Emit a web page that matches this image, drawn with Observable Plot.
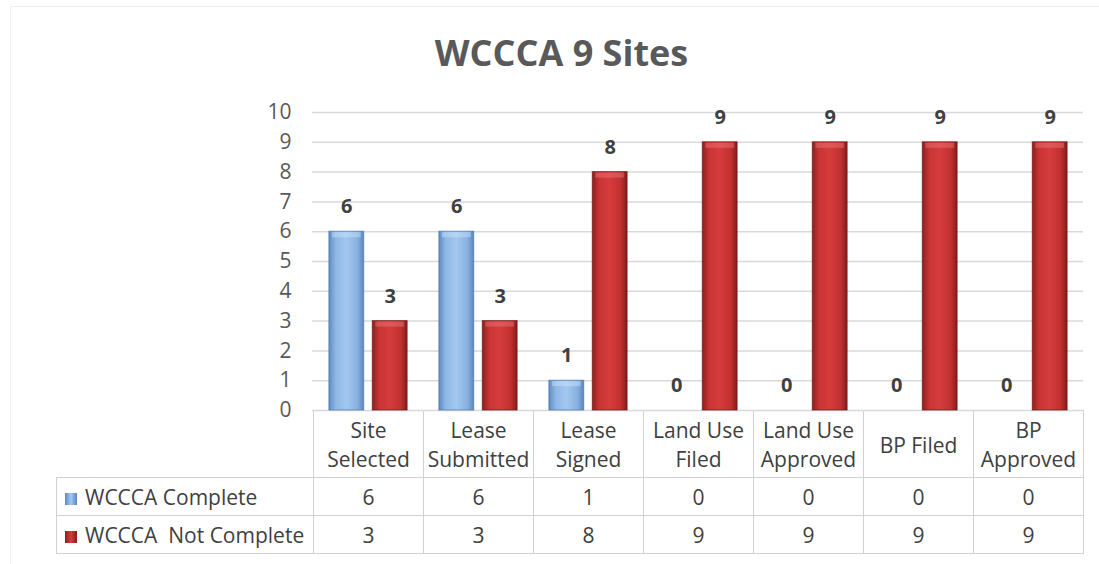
<!DOCTYPE html>
<html>
<head>
<meta charset="utf-8">
<script src="https://cdn.jsdelivr.net/npm/d3@7"></script>
<script src="https://cdn.jsdelivr.net/npm/@observablehq/plot@0.6"></script>
<style>
  body { margin: 0; background: #fff; }
  #wrap { position: relative; width: 1099px; height: 564px; overflow: hidden; font-family: "Open Sans", sans-serif; }
  #frame { position: absolute; left: 10px; top: 6px; width: 1300px; height: 900px; border: 1px solid #efefef; box-sizing: border-box; }
  #title { position: absolute; left: 24px; width: 1075px; top: 28px; height: 49px; line-height: 49px; text-align: center;
           font-weight: 700; font-size: 36px; color: #595959; }
  #chart { position: absolute; left: 0; top: 90px; z-index: 2; }
  #tbl { position: absolute; left: 56px; top: 410px; z-index: 1; border-collapse: collapse; table-layout: fixed;
         font-size: 21px; color: #404040; }
  #tbl td { border: 1px solid #d2d2d2; padding: 0; text-align: center; vertical-align: middle; white-space: pre; overflow: hidden; }
  #tbl td.blank { border-top: none; border-left: none; }
  #tbl td.rowlabel { text-align: left; padding-left: 8px; }
  .sw { display: inline-block; width: 12px; height: 12px; margin-right: 8px; vertical-align: 0px; box-sizing: border-box; }
</style>
</head>
<body>
<div id="wrap">
  <div id="frame"></div>
  <div id="title"></div>
  <div id="chart"></div>
  <table id="tbl"></table>
</div>
<script>
const title = "WCCCA 9 Sites";
const categories = ["Site\nSelected", "Lease\nSubmitted", "Lease\nSigned", "Land Use\nFiled", "Land Use\nApproved", "BP Filed", "BP\nApproved"];
const seriesNames = ["WCCCA Complete", "WCCCA  Not Complete"];
const completeValues = [6, 6, 1, 0, 0, 0, 0];
const notCompleteValues = [3, 3, 8, 9, 9, 9, 9];
const yTicks = [0, 1, 2, 3, 4, 5, 6, 7, 8, 9, 10];

document.getElementById("title").textContent = title;

const rows = categories.map((c, i) => ({category: c, complete: completeValues[i], notComplete: notCompleteValues[i]}));

const BAR_W = 35, OFF = 21.7;
const plotLeft = 312, plotRight = 1083;
const bandW = (plotRight - plotLeft) / categories.length;
const inset = (bandW - BAR_W) / 2;

const plot = Plot.plot({
  width: 1099, height: 387,
  marginTop: 22, marginBottom: 67, marginLeft: plotLeft, marginRight: 1099 - plotRight,
  style: {background: "transparent", fontFamily: "'Open Sans', sans-serif", fontSize: "21px", color: "#595959", overflow: "visible"},
  x: {domain: categories, padding: 0, axis: null},
  y: {domain: [0, 10], axis: null},
  marks: [
    Plot.gridY(yTicks, {stroke: "#d9d9d9", strokeOpacity: 1, strokeWidth: 1.5}),
    Plot.axisY(yTicks, {tickSize: 0, tickPadding: 21, fontSize: 21, fill: "#595959"}),
    Plot.barY(rows, {filter: d => d.complete > 0, x: "category", y: "complete", dx: -OFF, insetLeft: inset, insetRight: inset,
      fill: "url(#gradBlue)", stroke: "#4f78ab", strokeWidth: 1, strokeOpacity: 0.7}),
    Plot.barY(rows, {filter: d => d.notComplete > 0, x: "category", y: "notComplete", dx: OFF, insetLeft: inset, insetRight: inset,
      fill: "url(#gradRed)", stroke: "#6e1616", strokeWidth: 1, strokeOpacity: 0.7}),
    Plot.tickY(rows, {filter: d => d.complete > 0, x: "category", y: "complete", dx: -OFF, dy: 3, insetLeft: inset + 3, insetRight: inset + 3,
      stroke: "#cfe4fb", strokeWidth: 5, strokeOpacity: 0.45}),
    Plot.tickY(rows, {filter: d => d.notComplete > 0, x: "category", y: "notComplete", dx: OFF, dy: 3, insetLeft: inset + 3, insetRight: inset + 3,
      stroke: "#ee7a7a", strokeWidth: 5, strokeOpacity: 0.45}),
    Plot.text(rows, {x: "category", y: "complete", text: d => String(d.complete), dx: -OFF, dy: -25,
      fontWeight: "bold", fontSize: 20, fill: "#404040"}),
    Plot.text(rows, {x: "category", y: "notComplete", text: d => String(d.notComplete), dx: OFF, dy: -25,
      fontWeight: "bold", fontSize: 20, fill: "#404040"}),
    Plot.text(categories, {x: d => d, text: d => d, frameAnchor: "bottom", dy: 33, lineAnchor: "middle",
      lineHeight: 1.34, fontSize: 21, fill: "#404040"})
  ]
});

d3.select(plot).insert("defs", ":first-child").html(`
  <linearGradient id="gradBlue" x1="0" x2="1" y1="0" y2="0">
    <stop offset="0" stop-color="#5f8bc3"/>
    <stop offset="0.2" stop-color="#8fb8e6"/>
    <stop offset="0.5" stop-color="#a3c8f0"/>
    <stop offset="0.82" stop-color="#88b1e0"/>
    <stop offset="1" stop-color="#5a86bf"/>
  </linearGradient>
  <linearGradient id="gradRed" x1="0" x2="1" y1="0" y2="0">
    <stop offset="0" stop-color="#8e1f1f"/>
    <stop offset="0.2" stop-color="#c93434"/>
    <stop offset="0.5" stop-color="#d63c3c"/>
    <stop offset="0.82" stop-color="#c03030"/>
    <stop offset="1" stop-color="#861b1b"/>
  </linearGradient>`);

document.getElementById("chart").appendChild(plot);

// Data table below the chart, aligned to the x scale
const xs = plot.scale("x");
const colStart = xs.apply(categories[0]);
const bw = xs.bandwidth;
const tbl = d3.select("#tbl");
const tableLeft = 56;
const cg = tbl.append("colgroup");
cg.append("col").style("width", (colStart - tableLeft) + "px");
categories.forEach(() => cg.append("col").style("width", bw + "px"));
tbl.style("width", (colStart - tableLeft + bw * categories.length) + "px");

const head = tbl.append("tr").style("height", "67px");
head.append("td").attr("class", "blank");
categories.forEach(() => head.append("td"));

const swatches = [
  "linear-gradient(to right, #5f8bc3, #a3c8f0 50%, #5a86bf)",
  "linear-gradient(to right, #8e1f1f, #d63c3c 50%, #861b1b)"
];
[completeValues, notCompleteValues].forEach((vals, si) => {
  const tr = tbl.append("tr").style("height", "38px");
  const lab = tr.append("td").attr("class", "rowlabel");
  lab.append("span").attr("class", "sw").style("background", swatches[si]);
  lab.append("span").text(seriesNames[si]);
  vals.forEach(v => tr.append("td").text(String(v)));
});
</script>
</body>
</html>
